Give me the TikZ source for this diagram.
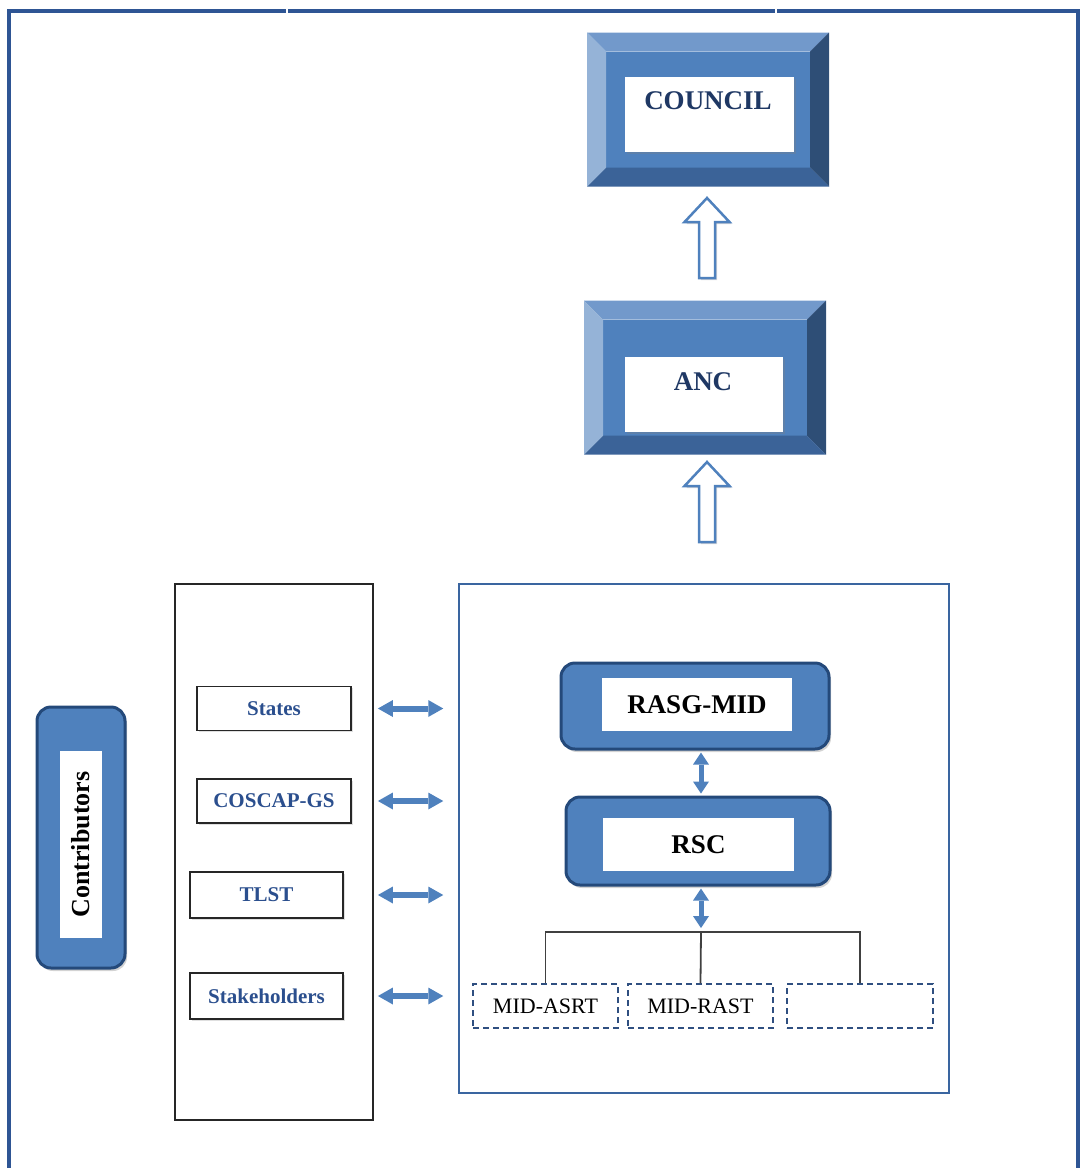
\documentclass[tikz,border=0pt]{standalone}
\usepackage{fontspec}
\setmainfont{Liberation Serif}
\usetikzlibrary{positioning,arrows.meta,shadows}
\definecolor{bevface}{HTML}{4F81BD}
\definecolor{bevtop}{HTML}{7299CB}
\definecolor{bevleft}{HTML}{95B3D7}
\definecolor{bevright}{HTML}{2E4E76}
\definecolor{bevbottom}{HTML}{3B6398}
\definecolor{rounddark}{HTML}{24497A}
\definecolor{headblue}{HTML}{1F3864}
\definecolor{memberblue}{HTML}{2B4F8E}
\definecolor{framecol}{HTML}{2E5594}
\definecolor{panelblue}{HTML}{3A65A0}
\definecolor{taskblue}{HTML}{2F4F80}

\newcommand{\bevelframe}[2]{%
  \fill[bevtop] ([shift={(-#2,-#2)}]#1.north west) -- ([shift={(#2,-#2)}]#1.north east) -- (#1.north east) -- (#1.north west) -- cycle;
  \fill[bevright] ([shift={(#2,-#2)}]#1.north east) -- ([shift={(#2,#2)}]#1.south east) -- (#1.south east) -- (#1.north east) -- cycle;
  \fill[bevbottom] ([shift={(#2,#2)}]#1.south east) -- ([shift={(-#2,#2)}]#1.south west) -- (#1.south west) -- (#1.south east) -- cycle;
  \fill[bevleft] ([shift={(-#2,#2)}]#1.south west) -- ([shift={(-#2,-#2)}]#1.north west) -- (#1.north west) -- (#1.south west) -- cycle;}

\begin{document}
\begin{tikzpicture}[x=1pt,y=-1pt,
    frame/.style={draw=framecol, line width=3.5pt},
    face/.style={fill=bevface, minimum width=204pt, minimum height=116pt, inner sep=0pt, outer sep=0pt},
    whitebox/.style={fill=white, inner sep=0pt, drop shadow={opacity=.3, shadow xshift=2pt, shadow yshift=-2pt}},
    headtext/.style={text=headblue, font=\bfseries\fontsize{27}{30}\selectfont},
    hollow/.style={draw=bevface, line width=2.5pt, fill=white, line join=miter,
      drop shadow={opacity=.3, shadow xshift=2pt, shadow yshift=-2pt}},
    uparrow/.pic={\draw[hollow] (0,0) -- (22.5,24) -- (8,24) -- (8,80) -- (-8,80) -- (-8,24) -- (-22.5,24) -- cycle;},
    column/.style={draw=black!85, line width=1.8pt, minimum width=198pt, minimum height=536pt},
    panel/.style={draw=panelblue, line width=1.5pt, minimum width=490pt, minimum height=509pt},
    member/.style={draw=black!85, line width=1.8pt, fill=white, minimum width=154pt, minimum height=44pt,
      text=memberblue, font=\bfseries\fontsize{21}{24}\selectfont,
      drop shadow={opacity=.25, shadow xshift=1.5pt, shadow yshift=-1.5pt}},
    roundbox/.style={rounded corners=14pt, fill=bevface, draw=rounddark, line width=3pt,
      drop shadow={opacity=.35, shadow xshift=2pt, shadow yshift=-3pt}},
    innerbox/.style={fill=white, inner sep=0pt, text=black, font=\bfseries\fontsize{27}{30}\selectfont},
    task/.style={draw=taskblue, dash pattern=on 6pt off 4pt, line width=1.5pt, minimum width=145pt,
      minimum height=44pt, font=\fontsize{22}{24}\selectfont},
    sidearrow/.style={draw=bevface, line width=6pt,
      {Triangle[length=15pt,width=17pt,line width=0pt]}-{Triangle[length=15pt,width=17pt,line width=0pt]}},
    vertarrow/.style={draw=bevface, line width=5pt, shorten <=2pt, shorten >=2pt,
      {Triangle[length=12pt,width=16pt,line width=0pt]}-{Triangle[length=12pt,width=16pt,line width=0pt]}},
    treeline/.style={draw=black!75, line width=1.8pt}]
  \useasboundingbox (0,0) rectangle (1080,1168);
  \draw[frame] (9,1180) -- (9,11) -- (1078,11) -- (1078,1180);
  \foreach \gx in {287,776} \draw[white, line width=1.2pt] (\gx,6) -- (\gx,16);

  % Define nodes
  \node[face] (council) at (708,109.5) {};
  \bevelframe{council}{19}
  \node[whitebox, minimum width=169pt, minimum height=75pt] (councilin) at (709.5,114.5) {};
  \node[headtext] (counciltxt) at (708,101) {COUNCIL};

  \node[face] (anc) at (705,377.5) {};
  \bevelframe{anc}{19}
  \node[whitebox, minimum width=158pt, minimum height=75pt] (ancin) at (704,394.5) {};
  \node[headtext] (anctxt) at (703,382) {ANC};

  \pic at (707,198) {uparrow};
  \pic at (707,462) {uparrow};

  \node[column] (column) at (274,852) {};
  \node[panel] (panel) at (704,838.5) {};

  \node[member] (states) at (274,708.5) {States};
  \node[member] (coscap) at (274,801) {COSCAP-GS};
  \node[member, minimum width=153pt, minimum height=46pt] (tlst) at (266.5,895) {TLST};
  \node[member, minimum width=153pt, minimum height=46pt] (stake) at (266.5,996) {Stakeholders};

  \node[roundbox, minimum width=88pt, minimum height=261pt] (contrib) at (81,837.5) {};
  \node[innerbox, rotate=90, minimum width=187pt, minimum height=42pt,
    font=\bfseries\fontsize{26}{28}\selectfont] (contribin) at (81,844.5) {Contributors};

  \node[roundbox, minimum width=268pt, minimum height=86pt] (rasg) at (695,706) {};
  \node[innerbox, minimum width=190pt, minimum height=53pt] (rasgin) at (697,704.5) {RASG-MID};
  \node[roundbox, minimum width=264pt, minimum height=88pt] (rsc) at (698,841) {};
  \node[innerbox, minimum width=191pt, minimum height=53pt] (rscin) at (698.5,844.5) {RSC};

  \node[task] (asrt) at (545.5,1006) {MID-ASRT};
  \node[task] (rast) at (700.5,1006) {MID-RAST};
  \node[task, minimum width=146pt] (spare) at (860,1006) {};
  \coordinate (fork) at (701,932);

  % Connect the nodes
  \foreach \m in {states,coscap,tlst,stake}
    \draw[sidearrow, shorten <=4pt, shorten >=15pt] (\m.east -| column.east) -- (\m.east -| panel.west);
  \draw[vertarrow] (rasg.south -| fork) -- (rsc.north -| fork);
  \draw[vertarrow, shorten >=4pt] (rsc.south -| fork) -- (fork);
  \draw[treeline] (asrt.north) |- (fork) -| (spare.north);
  \draw[treeline] (fork) -- (rast.north);
\end{tikzpicture}
\end{document}
